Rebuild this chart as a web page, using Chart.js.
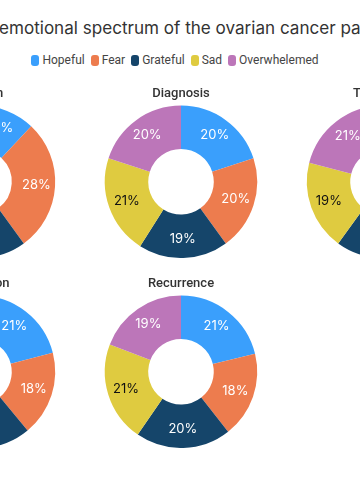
<!DOCTYPE html>
<html>
<head>
<meta charset="utf-8">
<script src="https://cdn.jsdelivr.net/npm/chart.js@4.4.1/dist/chart.umd.min.js"></script>
<style>
  html, body { margin:0; padding:0; background:#fff; }
  body { width:360px; height:500px; overflow:hidden; position:relative; font-family: Inter, "Noto Sans", sans-serif; }
  #title { position:absolute; left:-300px; top:17px; font-size:18px; color:#333; white-space:nowrap; }
  #legend { position:absolute; left:-306px; width:962px; top:53px; display:flex; justify-content:center; font-family: Roboto, sans-serif; font-size:12px; color:#444; }
  #legend span.item { display:flex; align-items:center; margin:0 3px; }
  #legend i { display:inline-block; width:8px; height:11px; border-radius:3px; margin-right:3px; }
  .cw { position:absolute; width:200px; height:172px; }
</style>
</head>
<body>
<div id="title"><span id="tpre">Mapping the </span><span id="tmid">emotional spectrum of the ovarian cancer pa</span><span>tient journey</span></div>
<div id="legend"></div>
<script>
const categories = ["Hopeful", "Fear", "Grateful", "Sad", "Overwhelemed"];
const colors = ["#3a9ffc", "#ed7c4e", "#15456a", "#dfcb40", "#bc76b9"];
const stages = ["Concern", "Diagnosis", "Treatment", "Remission", "Recurrence"];
const concern = [12, 28, 20, 20, 20];
const diagnosis = [20, 20, 19, 21, 20];
const treatment = [20, 20, 20, 19, 21];
const remission = [21, 18, 20, 21, 20];
const recurrence = [21, 18, 20, 21, 19];
const stageValues = [concern, diagnosis, treatment, remission, recurrence];

// title placement: visible part spans about -1..361 like the reference crop
(function(){
  const t = document.getElementById('title');
  const mid = document.getElementById('tmid');
  const w = mid.getBoundingClientRect().width;
  t.style.fontSize = (18 * 362 / w).toFixed(2) + 'px';
  const pre = document.getElementById('tpre').getBoundingClientRect().width;
  t.style.left = (-1 - pre) + 'px';
})();

// legend
const lg = document.getElementById('legend');
categories.forEach((c, i) => {
  const s = document.createElement('span'); s.className = 'item';
  const m = document.createElement('i'); m.style.background = colors[i];
  s.appendChild(m); s.appendChild(document.createTextNode(c));
  lg.appendChild(s);
});

const labelPlugin = {
  id: 'arcLabels',
  afterDatasetsDraw(chart) {
    const ctx = chart.ctx;
    const meta = chart.getDatasetMeta(0);
    const data = chart.data.datasets[0].data;
    ctx.save();
    ctx.font = '13px Inter, "Noto Sans", sans-serif';
    ctx.textAlign = 'center';
    ctx.textBaseline = 'middle';
    meta.data.forEach((arc, i) => {
      const p = arc.getProps(['x','y','startAngle','endAngle','innerRadius','outerRadius'], true);
      const a = (p.startAngle + p.endAngle) / 2;
      const r = p.innerRadius + (p.outerRadius - p.innerRadius) * 0.57;
      ctx.fillStyle = i === 3 ? '#111' : '#fff';
      ctx.fillText(data[i] + '%', p.x + Math.cos(a) * r, p.y + Math.sin(a) * r);
    });
    ctx.restore();
  }
};

const colX = [-21, 181, 383];
const rowTop = [86, 276];
stages.forEach((st, k) => {
  const col = k % 3, row = Math.floor(k / 3);
  const wrap = document.createElement('div');
  wrap.className = 'cw';
  wrap.style.left = (colX[col] - 100) + 'px';
  wrap.style.top = rowTop[row] + 'px';
  const cv = document.createElement('canvas');
  wrap.appendChild(cv);
  document.body.appendChild(wrap);
  new Chart(cv, {
    type: 'doughnut',
    data: { labels: categories, datasets: [{ data: stageValues[k], backgroundColor: colors, borderWidth: 0 }] },
    options: {
      responsive: true, maintainAspectRatio: false, animation: false,
      cutout: '43%',
      layout: { padding: 0 },
      plugins: {
        legend: { display: false },
        tooltip: { enabled: false },
        title: { display: true, text: st, color: '#333', font: { size: 13, weight: '500', family: 'Roboto, sans-serif' }, padding: { top: 0, bottom: 4 } }
      }
    },
    plugins: [labelPlugin]
  });
});
</script>
</body>
</html>
